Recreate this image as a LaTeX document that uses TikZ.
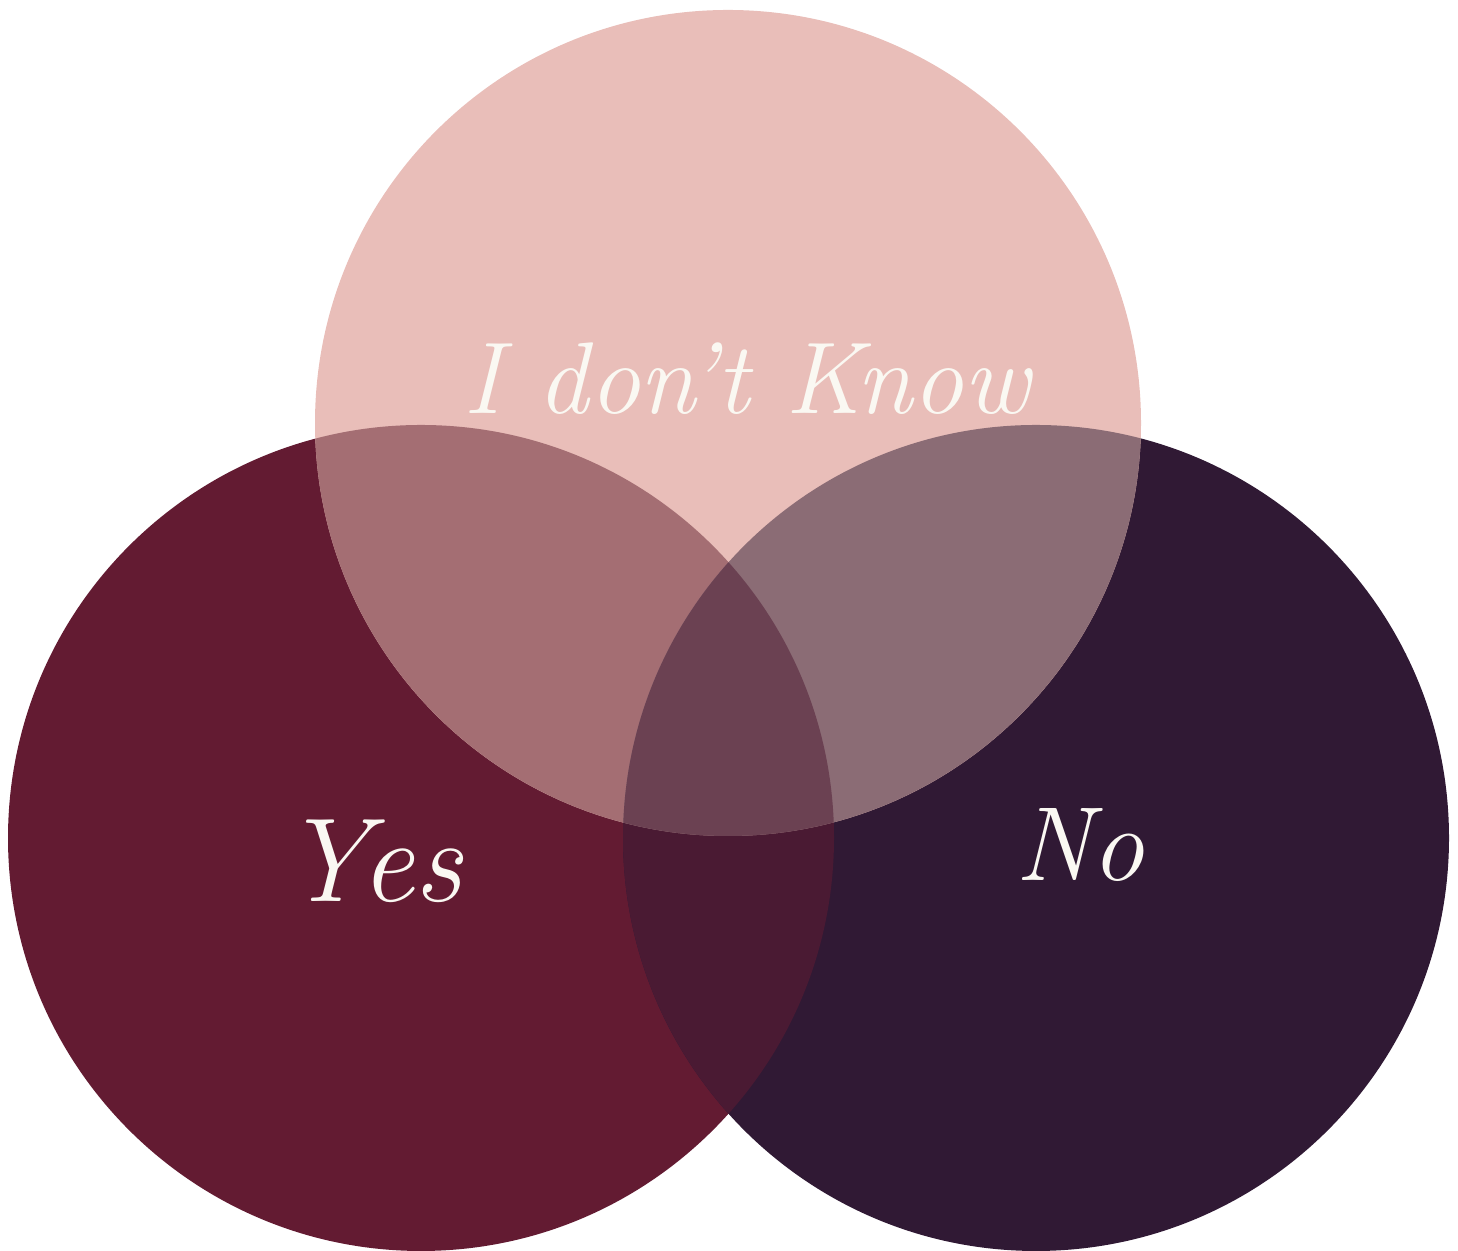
\documentclass[tikz,border=0pt]{standalone}
\usepackage{tikz}
\usetikzlibrary{positioning}
\definecolor{pinkc}{HTML}{E9BEB9}
\definecolor{yesc}{HTML}{631B32}
\definecolor{noc}{HTML}{301934}
\definecolor{yespink}{HTML}{A46E73}
\definecolor{nopink}{HTML}{8B6C75}
\definecolor{yesno}{HTML}{4A1A33}
\definecolor{allc}{HTML}{6B4152}
\definecolor{txt}{HTML}{FAF8F2}
\begin{document}
\begin{tikzpicture}[lbl/.style={text=txt,font=\itshape},R/.store in=\R,R=4.13cm]
\useasboundingbox (0,0) rectangle (14.58,12.51);
\coordinate (top) at (7.28,8.28);\coordinate (yes) at (4.21,4.13);\coordinate (no) at (10.36,4.13);
\fill[yesc] (yes) circle (\R);\fill[noc] (no) circle (\R);\fill[pinkc] (top) circle (\R);
\begin{scope}\clip (yes) circle (\R);\fill[yesno] (no) circle (\R);\fill[yespink] (top) circle (\R);\end{scope}
\begin{scope}\clip (no) circle (\R);\fill[nopink] (top) circle (\R);\end{scope}
\begin{scope}\clip (yes) circle (\R);\clip (no) circle (\R);\fill[allc] (top) circle (\R);\end{scope}
\node[lbl,font=\itshape\fontsize{29}{35}\selectfont] (q) at (7.47,8.72) {I don't Know};
\node[lbl,font=\itshape\fontsize{34}{40}\selectfont] (a) at (3.72,3.90) {Yes};
\node[lbl,font=\itshape\fontsize{30}{36}\selectfont] (b) at (10.80,4.06) {No};
\end{tikzpicture}
\end{document}
